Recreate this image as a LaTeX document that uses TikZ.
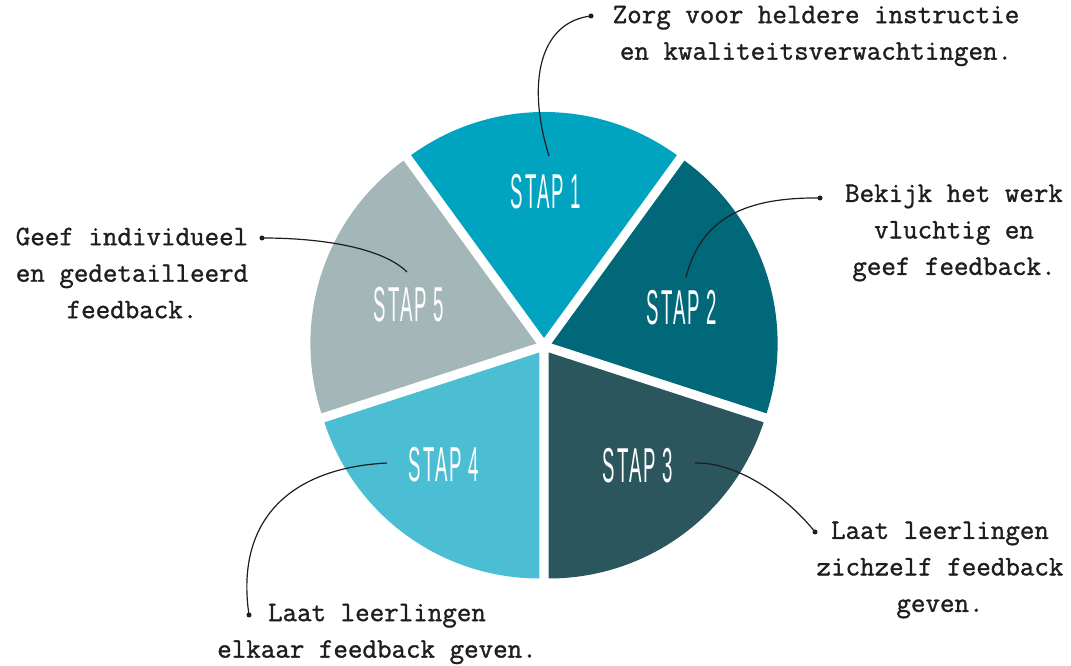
\documentclass[tikz,border=0pt]{standalone}
\usepackage{fontspec}
\usetikzlibrary{positioning}

\newfontfamily\notefont[FakeBold=1.2]{Latin Modern Mono}
\newfontfamily\stapfont[LetterSpace=10]{Liberation Sans}

\definecolor{stapone}{HTML}{00A3C0}
\definecolor{staptwo}{HTML}{006878}
\definecolor{stapthree}{HTML}{2B565D}
\definecolor{stapfour}{HTML}{4CBED4}
\definecolor{stapfive}{HTML}{A3B7B9}
\definecolor{notegray}{HTML}{1E1E1E}

\tikzset{
    note/.style={font={\notefont\fontsize{28.2}{36.5}\selectfont}, align=center, text=notegray, inner sep=0pt},
    stap/.style={text=white, inner sep=0pt},
    link/.style={line width=1.2pt, draw=notegray},
    pin/.style={circle, fill=notegray, inner sep=0pt, minimum size=5pt}
}
\newcommand{\staplabel}[1]{\scalebox{0.38}[1]{\stapfont\fontsize{49}{49}\selectfont STAP #1}}

\begin{document}
\begin{tikzpicture}[x=1pt, y=1pt]
    \useasboundingbox (0,0) rectangle (1071,666);
    % pie slices
    \fill[stapone] (544,328) -- ++(54:226) arc[start angle=54, end angle=126, radius=226] -- cycle;
    \fill[staptwo] (551.6,322.5) -- ++(-18:226) arc[start angle=-18, end angle=54, radius=226] -- cycle;
    \fill[stapthree] (548.7,313.5) -- ++(-90:226) arc[start angle=-90, end angle=-18, radius=226] -- cycle;
    \fill[stapfour] (539.3,313.5) -- ++(-162:226) arc[start angle=-162, end angle=-90, radius=226] -- cycle;
    \fill[stapfive] (536.4,322.5) -- ++(126:226) arc[start angle=126, end angle=198, radius=226] -- cycle;
    % step labels
    \node[stap] (stap1) at (546,474) {\staplabel{1}};
    \node[stap] (stap2) at (682,358) {\staplabel{2}};
    \node[stap] (stap3) at (638,200) {\staplabel{3}};
    \node[stap] (stap4) at (444,201) {\staplabel{4}};
    \node[stap] (stap5) at (409,361) {\staplabel{5}};
    % notes
    \node[note] (note1) at (816,630) {Zorg voor heldere instructie\\en kwaliteitsverwachtingen.};
    \node[note] (note2) at (954,433) {Bekijk het werk\\vluchtig en\\geef feedback.};
    \node[note] (note3) at (940,96) {Laat leerlingen\\zichzelf feedback\\geven.};
    \node[note] (note4) at (377,32) {Laat leerlingen\\elkaar feedback geven.};
    \node[note] (note5) at (132,393) {Geef individueel\\en gedetailleerd\\feedback.};
    % pins and connectors
    \node[pin] (pin1) at (591,650) {};
    \node[pin] (pin2) at (820,468) {};
    \node[pin] (pin3) at (815,134) {};
    \node[pin] (pin4) at (249,51) {};
    \node[pin] (pin5) at (262,428) {};
    \coordinate (end1) at (549,510);
    \coordinate (end2) at (686,389);
    \coordinate (end3) at (695,203);
    \coordinate (end4) at (387,203);
    \coordinate (end5) at (407,394);
    \draw[link] (end1) .. controls +(-23,74) and +(-51,-6) .. (pin1.center);
    \draw[link] (end2) .. controls +(14,52) and +(-85,1) .. (pin2.center);
    \draw[link] (end3) .. controls +(45,1) and +(-25,32) .. (pin3.center);
    \draw[link] (end4) .. controls +(-97,-5) and +(-14,95) .. (pin4.center);
    \draw[link] (end5) .. controls +(-22,22) and +(68,0) .. (pin5.center);
\end{tikzpicture}
\end{document}
